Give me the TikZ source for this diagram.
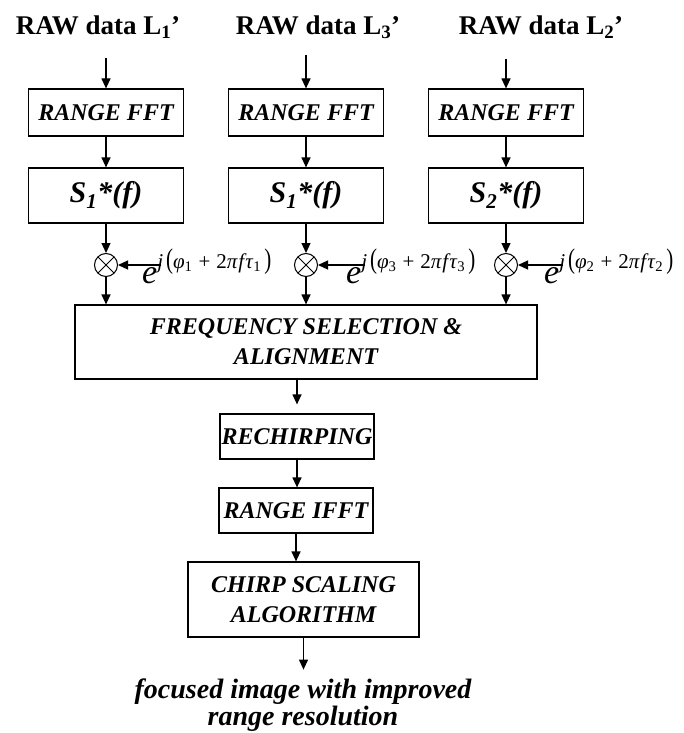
\documentclass[tikz,border=0pt]{standalone}
\usepackage{fontspec}
\setmainfont{Liberation Serif}
\usetikzlibrary{arrows.meta}

\newcommand{\phaseterm}[1]{\textit{e}\raisebox{15pt}{\fontsize{21}{21}\selectfont\textit{j}\kern3pt\scalebox{1}[1.35]{(}\textit{φ}\textsubscript{#1}\kern6pt+\kern6pt2\textit{π\kern1ptf\kern1ptτ}\textsubscript{#1}\kern3pt\scalebox{1}[1.35]{)}}}

\begin{document}
\begin{tikzpicture}[x=1pt,y=-1pt,
  box/.style={draw,line width=1.2pt,inner sep=0pt,align=center,
    font=\fontsize{24}{30}\selectfont\bfseries\itshape},
  sbox/.style={draw,line width=1.2pt,inner sep=0pt,minimum width=155pt,minimum height=55pt,
    font=\fontsize{30}{32}\selectfont\bfseries\itshape},
  title/.style={anchor=base,font=\fontsize{27}{30}\selectfont\bfseries},
  expo/.style={anchor=base west,inner sep=0pt,font=\fontsize{34}{36}\selectfont},
  mix/.style={draw,circle,line width=1pt,minimum size=23pt,inner sep=0pt,
    path picture={\draw[line width=1pt] (path picture bounding box.north west) -- (path picture bounding box.south east)
      (path picture bounding box.south west) -- (path picture bounding box.north east);}},
  arr/.style={line width=1.2pt,-{Triangle[length=10pt,width=9pt]}}]
\useasboundingbox (0,0) rectangle (684,733);

% Raw data inputs
\node[title] (raw1) at (98,35) {RAW data L\textsubscript{1}’};
\node[title] (raw3) at (318,35) {RAW data L\textsubscript{3}’};
\node[title] (raw2) at (541,35) {RAW data L\textsubscript{2}’};
\coordinate (in1) at (106,58);
\coordinate (in3) at (306,55);
\coordinate (in2) at (506,59);

% Range FFT boxes
\node[box,minimum width=155pt,minimum height=47pt] (fft1) at (106,112.5) {RANGE FFT};
\node[box,minimum width=155pt,minimum height=47pt] (fft3) at (306,112.5) {RANGE FFT};
\node[box,minimum width=155pt,minimum height=47pt] (fft2) at (506,112.5) {RANGE FFT};

% Reference functions
\node[sbox] (s1) at (106,195.5) {S\textsubscript{1}*(f)};
\node[sbox] (s3) at (306,195.5) {S\textsubscript{1}*(f)};
\node[sbox] (s2) at (506,195.5) {S\textsubscript{2}*(f)};

% Phase correction
\node[mix] (m1) at (106,265) {};
\node[mix] (m3) at (306,265) {};
\node[mix] (m2) at (506,265) {};
\node[expo] (e1) at (142,283) {\phaseterm{1}};
\node[expo] (e3) at (346,283) {\phaseterm{3}};
\node[expo] (e2) at (544,283) {\phaseterm{2}};
\coordinate (p1) at (161,265);
\coordinate (p3) at (365,265);
\coordinate (p2) at (563,265);

% Processing chain
\node[box,minimum width=462pt,minimum height=74pt] (freq) at (306,342) {FREQUENCY SELECTION \&\\ALIGNMENT};
\node[box,minimum width=154pt,minimum height=45pt] (rech) at (297,436.5) {RECHIRPING};
\node[box,minimum width=154pt,minimum height=45pt] (ifft) at (296,510.5) {RANGE IFFT};
\node[box,minimum width=231pt,minimum height=75pt] (csa) at (303.5,599.5) {CHIRP SCALING\\ALGORITHM};
\node[anchor=north,inner sep=0pt,align=center,font=\fontsize{28}{27}\selectfont\bfseries\itshape]
  (out) at (303,679) {focused image with improved\\range resolution};

% Arrows
\draw[arr] (in1) -- (fft1);
\draw[arr] (in3) -- (fft3);
\draw[arr] (in2) -- (fft2);
\draw[arr] (fft1) -- (s1);
\draw[arr] (fft3) -- (s3);
\draw[arr] (fft2) -- (s2);
\draw[arr] (s1) -- (m1);
\draw[arr] (s3) -- (m3);
\draw[arr] (s2) -- (m2);
\draw[arr] (p1) -- (m1);
\draw[arr] (p3) -- (m3);
\draw[arr] (p2) -- (m2);
\draw[arr] (m1) -- (m1 |- freq.north);
\draw[arr] (m3) -- (m3 |- freq.north);
\draw[arr] (m2) -- (m2 |- freq.north);
\draw[arr,shorten >=9pt] (rech |- freq.south) -- (rech.north);
\draw[arr] (rech.south) -- (rech.south |- ifft.north);
\draw[arr] (ifft.south) -- (ifft.south |- csa.north);
\draw[arr] (csa.south) -- ++(0,32);

\end{tikzpicture}
\end{document}
